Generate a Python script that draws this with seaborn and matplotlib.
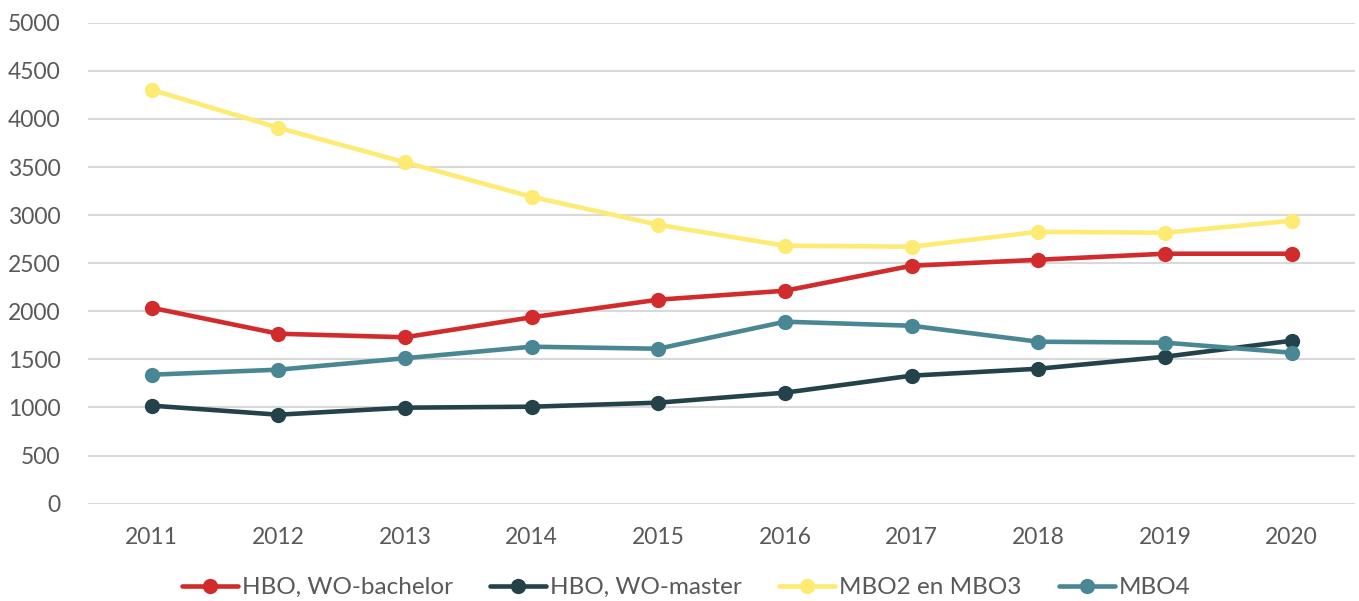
import numpy as np
import pandas as pd
import matplotlib.pyplot as plt
import seaborn as sns

years = [2011, 2012, 2013, 2014, 2015, 2016, 2017, 2018, 2019, 2020]
hbo_bachelor = [2037, 1767, 1730, 1938, 2121, 2214, 2474, 2536, 2599, 2599]
hbo_master = [1019, 925, 998, 1008, 1050, 1154, 1331, 1403, 1528, 1694]
mbo23 = [4304, 3909, 3550, 3191, 2900, 2682, 2672, 2827, 2817, 2942]
mbo4 = [1341, 1393, 1512, 1632, 1611, 1892, 1850, 1684, 1674, 1570]

series = ["HBO, WO-bachelor", "HBO, WO-master", "MBO2 en MBO3", "MBO4"]
colors = ["#D22B2B", "#24424A", "#FDEB73", "#4A8794"]

df = pd.DataFrame({
    "jaar": years * 4,
    "aantal": hbo_bachelor + hbo_master + mbo23 + mbo4,
    "groep": np.repeat(series, len(years)),
})

sns.set_style("white")
plt.rcParams["font.family"] = ["Lato", "DejaVu Sans"]

fig, ax = plt.subplots(figsize=(13.59, 6.01), dpi=100)
fig.subplots_adjust(left=0.065, right=0.997, top=0.962, bottom=0.162)

sns.lineplot(data=df, x="jaar", y="aantal", hue="groep", hue_order=series,
             palette=colors, marker="o", markersize=11, markeredgewidth=0,
             linewidth=3.3, ax=ax, zorder=3)

ax.set_xlim(2010.5, 2020.5)
ax.set_ylim(0, 5000)
ax.set_xticks(years)
ax.set_yticks(range(0, 5001, 500))
ax.grid(axis="y", color="#D9D9D9", linewidth=1.5, zorder=0)
ax.grid(axis="x", visible=False)
sns.despine(ax=ax, left=True, bottom=True, top=True, right=True)
ax.tick_params(axis="both", length=0, labelsize=16.5, labelcolor="#595959")
ax.tick_params(axis="x", pad=17)
ax.tick_params(axis="y", pad=20)
ax.set_xlabel("")
ax.set_ylabel("")

handles, labels = ax.get_legend_handles_labels()
ax.get_legend().remove()
fig.legend(handles, labels, loc="center", bbox_to_anchor=(0.505, 0.022), ncol=4,
           frameon=False, fontsize=17.5, labelcolor="#595959",
           handlelength=2.3, handletextpad=0.15, columnspacing=1.55)

fig.savefig("out.png", dpi=100)
